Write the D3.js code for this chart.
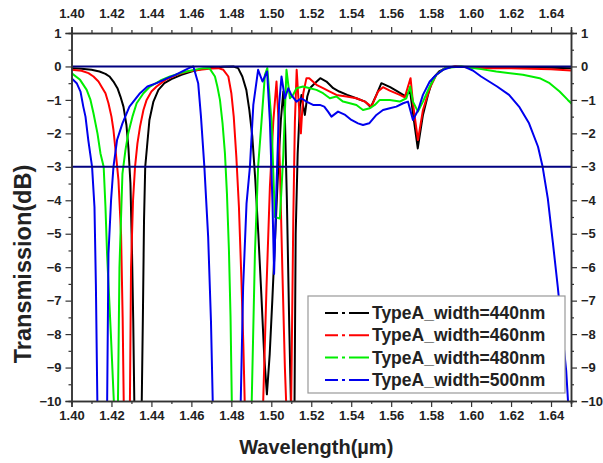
<!DOCTYPE html>
<html>
<head>
<meta charset="utf-8">
<script src="https://cdnjs.cloudflare.com/ajax/libs/d3/7.8.5/d3.min.js"></script>
<style>
body { margin: 0; background: #fff; }
text { font-family: "Liberation Sans", Arial, sans-serif; font-weight: bold; fill: #222; }
</style>
</head>
<body>
<div id="chart"></div>
<script>
// transmission spectra, [wavelength (um), transmission (dB)]
var black440 = [[1.400,-0.05],[1.405,-0.07],[1.410,-0.1],[1.414,-0.15],[1.417,-0.22],[1.419,-0.3],[1.421,-0.45],[1.423,-0.65],[1.4245,-0.9],[1.426,-1.2],[1.4275,-1.75],[1.4285,-2.45],[1.4295,-3.5],[1.4303,-5.6],[1.4309,-7.6],[1.4315,-10.3],[1.4351,-10.3],[1.4357,-7.6],[1.4363,-4.6],[1.4369,-3.0],[1.4378,-2.4],[1.439,-1.6],[1.441,-1.05],[1.4435,-0.7],[1.4465,-0.5],[1.450,-0.38],[1.455,-0.25],[1.460,-0.15],[1.465,-0.08],[1.470,-0.04],[1.476,-0.01],[1.481,0],[1.4834,-0.05],[1.4855,-0.3],[1.4875,-0.7],[1.489,-1.3],[1.4905,-2.1],[1.492,-3.4],[1.4935,-5.0],[1.495,-6.8],[1.4965,-8.7],[1.4978,-9.8],[1.4992,-8.6],[1.5005,-7.0],[1.502,-5.0],[1.5035,-3.0],[1.5048,-1.6],[1.506,-0.75],[1.5068,-1.5],[1.5078,-4.0],[1.509,-7.8],[1.5099,-10.3],[1.5116,-10.3],[1.5122,-5.0],[1.5132,-2.6],[1.5143,-1.2],[1.5151,-0.85],[1.516,-1.2],[1.5168,-1.45],[1.518,-0.9],[1.5193,-0.65],[1.5218,-0.5],[1.5245,-0.35],[1.5276,-0.45],[1.531,-0.65],[1.534,-0.75],[1.538,-0.85],[1.5425,-0.95],[1.547,-1.05],[1.5498,-1.22],[1.5526,-0.85],[1.5551,-0.5],[1.5595,-0.62],[1.5625,-0.72],[1.5668,-0.88],[1.5695,-0.75],[1.571,-1.45],[1.5733,-2.45],[1.5759,-1.45],[1.5784,-0.85],[1.581,-0.35],[1.584,-0.15],[1.588,-0.03],[1.592,0],[1.60,-0.02],[1.61,-0.02],[1.62,-0.03],[1.63,-0.03],[1.64,-0.04],[1.65,-0.05]];

var red460 = [[1.400,-0.1],[1.405,-0.13],[1.4085,-0.2],[1.411,-0.3],[1.4135,-0.45],[1.4155,-0.65],[1.417,-0.8],[1.4185,-1.1],[1.420,-1.5],[1.421,-1.9],[1.4222,-2.6],[1.4235,-3.4],[1.4248,-5.0],[1.4256,-7.5],[1.4262,-10.3],[1.4292,-10.3],[1.4298,-6.0],[1.4308,-4.0],[1.4318,-3.0],[1.433,-2.3],[1.4343,-1.8],[1.436,-1.3],[1.4376,-1.0],[1.440,-0.75],[1.4426,-0.6],[1.447,-0.4],[1.4526,-0.25],[1.458,-0.15],[1.4643,-0.1],[1.470,-0.06],[1.4735,-0.05],[1.476,-0.1],[1.4785,-0.3],[1.480,-0.8],[1.4812,-1.5],[1.4825,-2.7],[1.4838,-4.2],[1.485,-6.3],[1.486,-8.3],[1.4868,-10.3],[1.4958,-10.3],[1.4976,-6.6],[1.4993,-3.6],[1.501,-1.65],[1.5026,-0.45],[1.5035,-1.5],[1.5043,-3.0],[1.5055,-6.0],[1.5068,-9.0],[1.5076,-10.3],[1.5099,-10.3],[1.511,-4.6],[1.5118,-1.65],[1.5127,-0.1],[1.5135,-0.9],[1.5148,-2.0],[1.516,-0.8],[1.5176,-0.35],[1.519,-0.35],[1.5226,-0.55],[1.5259,-0.65],[1.5293,-0.75],[1.5326,-0.85],[1.5376,-0.9],[1.5426,-0.95],[1.5468,-1.05],[1.5501,-1.2],[1.5534,-0.75],[1.5559,-0.62],[1.5593,-0.72],[1.5643,-0.85],[1.5668,-0.92],[1.5697,-0.35],[1.571,-1.15],[1.5734,-2.2],[1.5759,-1.3],[1.5793,-0.65],[1.5826,-0.25],[1.587,-0.05],[1.592,0],[1.60,-0.03],[1.61,-0.05],[1.62,-0.05],[1.63,-0.07],[1.64,-0.08],[1.65,-0.12]];

var green480 = [[1.400,-0.2],[1.4043,-0.4],[1.4076,-0.7],[1.4095,-1.0],[1.411,-1.4],[1.413,-2.0],[1.4145,-2.6],[1.4161,-3.0],[1.417,-4.2],[1.4178,-5.6],[1.4197,-8.0],[1.4214,-10.3],[1.4232,-10.3],[1.424,-6.0],[1.4255,-3.2],[1.427,-2.5],[1.4284,-2.0],[1.4305,-1.5],[1.4326,-1.1],[1.436,-0.8],[1.4393,-0.6],[1.4445,-0.42],[1.4493,-0.3],[1.4545,-0.2],[1.4593,-0.13],[1.4659,-0.05],[1.469,-0.05],[1.4718,-0.3],[1.473,-0.6],[1.4743,-1.0],[1.4756,-1.7],[1.4768,-2.6],[1.4778,-3.8],[1.4788,-5.5],[1.4796,-7.5],[1.4803,-10.3],[1.4901,-10.3],[1.4918,-5.6],[1.4934,-3.0],[1.4951,-1.65],[1.4968,-0.25],[1.498,-0.05],[1.5001,-1.65],[1.5018,-4.5],[1.5043,-4.55],[1.506,-2.65],[1.5076,-0.1],[1.5093,-0.95],[1.5109,-0.85],[1.5126,-0.65],[1.5159,-0.6],[1.5193,-0.65],[1.5226,-0.7],[1.5259,-0.8],[1.5293,-0.95],[1.5326,-0.9],[1.5359,-1.05],[1.5393,-1.1],[1.5426,-1.15],[1.5459,-1.3],[1.5493,-1.25],[1.5518,-1.15],[1.5543,-1.0],[1.5593,-1.0],[1.5643,-1.05],[1.5676,-0.95],[1.5695,-0.6],[1.5709,-1.05],[1.5734,-1.35],[1.5759,-1.05],[1.5793,-0.6],[1.5826,-0.25],[1.587,-0.05],[1.595,0],[1.605,-0.08],[1.6126,-0.15],[1.6259,-0.25],[1.6343,-0.35],[1.6393,-0.5],[1.6443,-0.75],[1.6484,-1.0],[1.651,-1.15]];

var blue500 = [[1.400,-0.35],[1.4026,-0.5],[1.4045,-0.75],[1.4059,-1.2],[1.407,-1.5],[1.4084,-2.2],[1.4103,-3.0],[1.4115,-4.2],[1.4122,-6.5],[1.4130,-10.3],[1.4178,-10.3],[1.4185,-5.6],[1.4198,-4.0],[1.421,-3.0],[1.4228,-2.2],[1.4255,-1.7],[1.429,-1.2],[1.4343,-0.8],[1.438,-0.6],[1.4426,-0.5],[1.448,-0.35],[1.452,-0.25],[1.457,-0.1],[1.4595,-0.03],[1.461,0],[1.4634,-0.5],[1.4648,-1.5],[1.4665,-3.0],[1.4684,-5.1],[1.4698,-7.6],[1.4708,-10.3],[1.4846,-10.3],[1.4859,-6.6],[1.4876,-4.1],[1.4893,-3.0],[1.491,-1.15],[1.4934,-0.1],[1.4956,-0.45],[1.4979,-0.15],[1.4993,-1.65],[1.5006,-4.1],[1.5014,-6.2],[1.5026,-3.6],[1.5039,-1.15],[1.5051,-0.3],[1.5068,-0.95],[1.5085,-0.65],[1.510,-0.85],[1.5126,-1.05],[1.515,-0.95],[1.5176,-1.05],[1.5209,-1.15],[1.5243,-1.15],[1.5265,-1.2],[1.5284,-1.35],[1.5301,-1.5],[1.5334,-1.35],[1.537,-1.45],[1.5401,-1.6],[1.5434,-1.7],[1.5459,-1.75],[1.549,-1.7],[1.5526,-1.45],[1.5559,-1.3],[1.5593,-1.25],[1.5626,-1.2],[1.566,-1.1],[1.5684,-1.05],[1.5709,-1.6],[1.5735,-1.3],[1.5759,-0.85],[1.5793,-0.45],[1.5826,-0.25],[1.586,-0.1],[1.590,-0.02],[1.597,-0.02],[1.6009,-0.12],[1.605,-0.3],[1.613,-0.6],[1.619,-0.85],[1.624,-1.2],[1.629,-1.7],[1.6335,-2.4],[1.6358,-3.0],[1.6384,-3.95],[1.6409,-5.25],[1.6434,-6.6],[1.6459,-8.1],[1.6476,-9.1],[1.6488,-10.3]];

var seriesNames = ["TypeA_width=440nm", "TypeA_width=460nm", "TypeA_width=480nm", "TypeA_width=500nm"];
var seriesData = [black440, red460, green480, blue500];
var seriesColors = ["#000000", "#ff0000", "#00ee00", "#0000ee"];

var refLevels = [0, -3];
var xMajor = d3.range(0, 13).map(i => +(1.40 + i * 0.02).toFixed(2));
var xMinor = d3.range(0, 13).map(i => +(1.41 + i * 0.02).toFixed(2));
var yMajor = d3.range(-10, 2);
var yMinor = d3.range(-9.5, 1, 1);

var svgWidth = 603;
var svgHeight = 463;
var margin = { top: 33, right: 32, bottom: 62, left: 71.5 };
var width = svgWidth - margin.left - margin.right;
var height = svgHeight - margin.top - margin.bottom;

var svg = d3.select("#chart")
.append("svg")
.attr("width", svgWidth)
.attr("height", svgHeight);

var chartGroup = svg.append("g")
.attr("transform", `translate(${margin.left},${margin.top})`);

var xScale = d3.scaleLinear().domain([1.40, 1.65]).range([0, width]);
var yScale = d3.scaleLinear().domain([-10, 1]).range([height, 0]);

chartGroup.append("clipPath")
.attr("id", "plotClip")
.append("rect")
.attr("width", width)
.attr("height", height);

// curves
var line = d3.line()
.x(d => xScale(d[0]))
.y(d => yScale(d[1]));

var curves = chartGroup.append("g").attr("clip-path", "url(#plotClip)");
seriesData.forEach(function(data, i) {
    curves.append("path")
    .datum(data)
    .attr("d", line)
    .attr("fill", "none")
    .attr("stroke", seriesColors[i])
    .attr("stroke-width", 2)
    .attr("stroke-linejoin", "round");
});

curves.selectAll(".ref")
.data(refLevels)
.enter()
.append("line")
.attr("x1", 0)
.attr("x2", width)
.attr("y1", d => yScale(d))
.attr("y2", d => yScale(d))
.attr("stroke", "#000080")
.attr("stroke-width", 2);

// axes
function styleAxis(g) {
    g.select(".domain").attr("stroke", "#333").attr("stroke-width", 1.5);
    g.selectAll(".tick line").attr("stroke", "#333").attr("stroke-width", 1.2);
    g.selectAll(".tick text").attr("font-size", "13px").attr("fill", "#222");
}

var bottomAxis = chartGroup.append("g")
.attr("transform", `translate(0, ${height})`)
.call(d3.axisBottom(xScale).tickValues(xMajor).tickFormat(d3.format(".2f")).tickSize(6).tickPadding(4))
.call(styleAxis);
chartGroup.append("g")
.attr("transform", `translate(0, ${height})`)
.call(d3.axisBottom(xScale).tickValues(xMinor).tickFormat("").tickSize(3))
.call(styleAxis);

var topAxis = chartGroup.append("g")
.call(d3.axisTop(xScale).tickValues(xMajor).tickFormat(d3.format(".2f")).tickSize(6).tickPadding(9))
.call(styleAxis);
chartGroup.append("g")
.call(d3.axisTop(xScale).tickValues(xMinor).tickFormat("").tickSize(3))
.call(styleAxis);

var leftAxis = chartGroup.append("g")
.call(d3.axisLeft(yScale).tickValues(yMajor).tickFormat(d3.format("d")).tickSize(6).tickPadding(4))
.call(styleAxis);
chartGroup.append("g")
.call(d3.axisLeft(yScale).tickValues(yMinor).tickFormat("").tickSize(3))
.call(styleAxis);

var rightAxis = chartGroup.append("g")
.attr("transform", `translate(${width}, 0)`)
.call(d3.axisRight(yScale).tickValues(yMajor).tickFormat(d3.format("d")).tickSize(6).tickPadding(4))
.call(styleAxis);
chartGroup.append("g")
.attr("transform", `translate(${width}, 0)`)
.call(d3.axisRight(yScale).tickValues(yMinor).tickFormat("").tickSize(3))
.call(styleAxis);

// axis titles
chartGroup.append("text")
.attr("x", width / 2 - 5)
.attr("y", height + 53)
.attr("text-anchor", "middle")
.attr("font-size", "20px")
.text("Wavelength(\u00b5m)");

chartGroup.append("text")
.attr("transform", "rotate(-90)")
.attr("x", -(height / 2) - 47)
.attr("y", -margin.left + 31)
.attr("text-anchor", "middle")
.attr("font-size", "23.5px")
.text("Transmission(dB)");

// legend
var legend = chartGroup.append("g")
.attr("transform", `translate(${308 - margin.left}, ${296 - margin.top})`);

legend.append("rect")
.attr("width", 257)
.attr("height", 97)
.attr("fill", "#fff")
.attr("stroke", "#999")
.attr("stroke-width", 1.2);

var legendRows = legend.selectAll(".row")
.data(seriesNames)
.enter()
.append("g")
.attr("transform", (d, i) => `translate(0, ${17 + i * 22.3})`);

legendRows.append("line")
.attr("x1", 17)
.attr("x2", 61)
.attr("stroke", (d, i) => seriesColors[i])
.attr("stroke-width", 2)
.attr("stroke-dasharray", "13,4,3,4,20");

legendRows.append("text")
.attr("x", 64)
.attr("y", 6)
.attr("font-size", "17.5px")
.text(d => d);
</script>
</body>
</html>
